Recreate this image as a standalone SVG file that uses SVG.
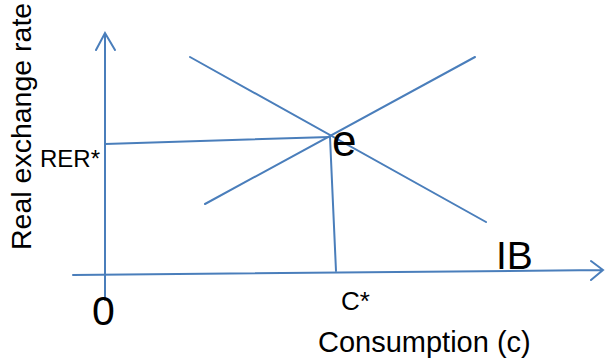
<svg xmlns="http://www.w3.org/2000/svg" width="605" height="362" viewBox="0 0 605 362">
<style>
.ln{stroke:#4a7ebb;stroke-width:2;fill:none;stroke-linecap:round}
.t{font-family:"Liberation Sans",Arial,sans-serif;fill:#000}
</style>
<rect width="605" height="362" fill="#fff"/>
<g id="connectors">
<path class="ln" d="M105,300 L105,33 M96,50 L105,33 L115,50"/>
<path class="ln" d="M73,275 L603,270 M591,261 L603,270 L591,280"/>
<path class="ln" d="M105,144 L330,137"/>
<path class="ln" d="M330,137 L336,271"/>
<path class="ln" d="M190,57 L486,222"/>
<path class="ln" d="M205,204 L475,57"/>
</g>
<g id="labels">
<text class="t" x="332" y="156" font-size="44">e</text>
<text class="t" x="496" y="269" font-size="39">IB</text>
<text class="t" x="40" y="167" font-size="24">RER*</text>
<text class="t" x="92" y="325" font-size="41">0</text>
<text class="t" x="341" y="310" font-size="26">C*</text>
<text class="t" x="318" y="352" font-size="29">Consumption (c)</text>
<text class="t" font-size="28.5" transform="translate(31,250) rotate(-90)">Real exchange rate</text>
</g>
</svg>
